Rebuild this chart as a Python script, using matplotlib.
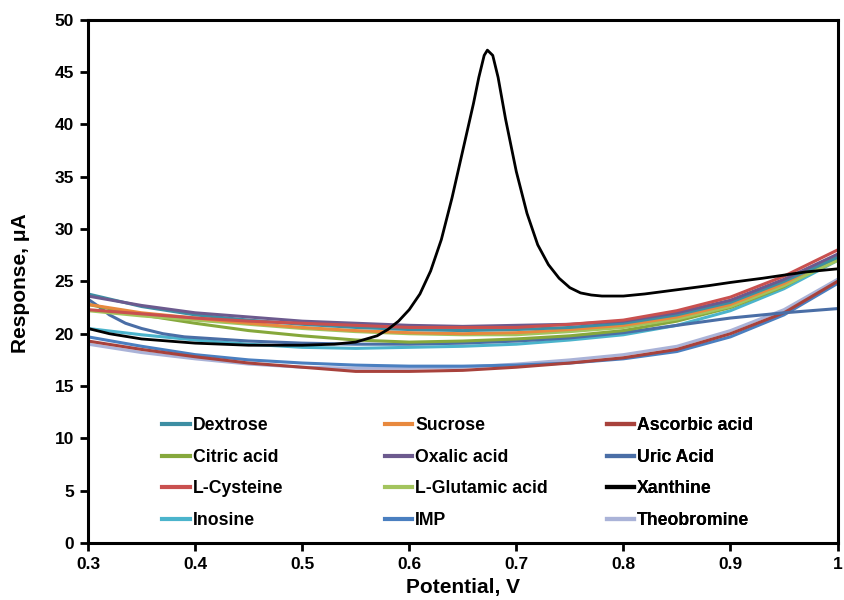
import numpy as np
import matplotlib
matplotlib.use("Agg")
import matplotlib.pyplot as plt
from matplotlib.lines import Line2D

plt.rcParams['font.family'] = ['Liberation Sans', 'DejaVu Sans']
plt.rcParams['font.weight'] = 'bold'

#%% DATA
v_grid = [0.30, 0.35, 0.40, 0.45, 0.50, 0.55, 0.60, 0.65, 0.70, 0.75, 0.80, 0.85, 0.90, 0.95, 1.00]

dextrose    = [23.8, 22.6, 21.8, 21.3, 20.9, 20.6, 20.4, 20.3, 20.4, 20.6, 21.0, 21.8, 23.0, 25.0, 27.3]
sucrose     = [22.8, 22.0, 21.5, 21.0, 20.6, 20.3, 20.1, 20.0, 20.1, 20.4, 20.8, 21.6, 22.8, 24.8, 27.5]
ascorbic    = [19.3, 18.5, 17.8, 17.2, 16.8, 16.4, 16.4, 16.5, 16.8, 17.2, 17.7, 18.5, 20.0, 22.0, 25.0]
citric      = [22.8, 21.8, 21.0, 20.3, 19.8, 19.4, 19.2, 19.3, 19.5, 19.8, 20.3, 21.2, 22.5, 24.5, 27.3]
oxalic      = [23.6, 22.7, 22.0, 21.6, 21.2, 21.0, 20.8, 20.7, 20.8, 20.9, 21.2, 22.0, 23.2, 25.2, 27.6]
cysteine    = [22.3, 21.9, 21.5, 21.2, 21.0, 20.8, 20.6, 20.6, 20.6, 20.9, 21.3, 22.2, 23.5, 25.5, 28.0]
glutamic    = [22.2, 21.7, 21.3, 20.9, 20.5, 20.2, 20.0, 19.9, 19.9, 20.2, 20.6, 21.4, 22.6, 24.6, 27.0]
inosine     = [20.5, 19.9, 19.4, 19.0, 18.7, 18.6, 18.7, 18.8, 19.0, 19.4, 19.9, 20.8, 22.2, 24.3, 27.0]
imp         = [19.7, 18.8, 18.0, 17.5, 17.2, 17.0, 16.9, 16.9, 17.0, 17.2, 17.6, 18.3, 19.7, 21.8, 24.8]
theobromine = [19.0, 18.2, 17.6, 17.1, 16.8, 16.7, 16.7, 16.8, 17.1, 17.5, 18.0, 18.8, 20.3, 22.3, 25.2]

# uric acid falls fast at the start
v_uric = [0.30, 0.31, 0.32, 0.335, 0.35, 0.37, 0.39, 0.42, 0.45, 0.50, 0.55, 0.60, 0.65, 0.70,
          0.75, 0.80, 0.85, 0.90, 0.95, 1.00]
uric = [23.3, 22.6, 21.8, 21.0, 20.5, 20.0, 19.7, 19.5, 19.3, 19.1, 19.0, 19.0, 19.1, 19.3,
        19.6, 20.1, 20.8, 21.5, 22.0, 22.4]

# xanthine has the oxidation peak, so it needs its own finer grid
v_xan = [0.30, 0.32, 0.35, 0.40, 0.45, 0.50, 0.53, 0.55, 0.57, 0.58, 0.59, 0.60, 0.61, 0.62,
         0.63, 0.64, 0.65, 0.66, 0.665, 0.67, 0.673, 0.678, 0.683, 0.69, 0.70, 0.71, 0.72,
         0.73, 0.74, 0.75, 0.76, 0.77, 0.78, 0.80, 0.82, 0.85, 0.88, 0.90, 0.93, 0.95, 0.97, 1.00]
xanthine = [20.5, 20.0, 19.5, 19.1, 18.9, 18.9, 19.0, 19.2, 19.8, 20.4, 21.2, 22.3, 23.8, 26.0,
            29.0, 33.0, 37.5, 42.0, 44.5, 46.6, 47.1, 46.6, 44.5, 40.5, 35.5, 31.5, 28.5,
            26.6, 25.3, 24.4, 23.9, 23.7, 23.6, 23.6, 23.8, 24.2, 24.6, 24.9, 25.3, 25.6, 25.9, 26.2]

names = ['Dextrose', 'Sucrose', 'Ascorbic acid', 'Citric acid', 'Oxalic acid', 'Uric Acid',
         'L-Cysteine', 'L-Glutamic acid', 'Xanthine', 'Inosine', 'IMP', 'Theobromine']
colors = ['#3d8ea3', '#e8893e', '#a8423c', '#86a83c', '#6c5a8e', '#4a6ea6',
          '#c9504f', '#a3c45e', '#000000', '#4bb4cc', '#4a7fc0', '#aab3d8']

#%% PLOT
fig = plt.figure(figsize=(8.44, 6.0), dpi=100)
ax = fig.add_axes([0.1043, 0.095, 0.888, 0.872])

xs = [v_grid, v_grid, v_grid, v_grid, v_grid, v_uric,
      v_grid, v_grid, v_xan, v_grid, v_grid, v_grid]
ys = [dextrose, sucrose, ascorbic, citric, oxalic, uric,
      cysteine, glutamic, xanthine, inosine, imp, theobromine]
draw_order = [11, 10, 2, 9, 5, 3, 7, 1, 0, 4, 6, 8]
for i in draw_order:
    lw = 2.0 if names[i] == 'Xanthine' else 2.2
    ax.plot(xs[i], ys[i], color=colors[i], lw=lw, zorder=5 if names[i] == 'Xanthine' else 2)

ax.set_xlim(0.3, 1.0)
ax.set_ylim(0, 50)
ax.set_xticks(np.arange(0.3, 1.01, 0.1))
ax.set_xticklabels(['0.3', '0.4', '0.5', '0.6', '0.7', '0.8', '0.9', '1'])
ax.set_yticks(range(0, 51, 5))
ax.tick_params(axis='both', direction='out', length=6, width=2, labelsize=12.5, pad=4)
for s in ax.spines.values():
    s.set_linewidth(2.2)

ax.set_xlabel('Potential, V', fontsize=15, fontweight='bold')
ax.set_ylabel('Response, μA', fontsize=15, fontweight='bold')
ax.xaxis.set_label_coords(0.5, -0.066)
ax.yaxis.set_label_coords(-0.077, 0.497)

# legend: 3 columns, row-major order, placed as three single-column legends
col_x = [0.099, 0.396, 0.692]
for c in range(3):
    idx = [c, c + 3, c + 6, c + 9]
    handles = [Line2D([], [], color=colors[i], lw=3) for i in idx]
    leg = ax.legend(handles, [names[i] for i in idx], loc='upper left',
                    bbox_to_anchor=(col_x[c], 0.24), borderaxespad=0, borderpad=0,
                    frameon=False, fontsize=12.7, handlelength=1.55, handletextpad=0.17,
                    labelspacing=0.82)
    ax.add_artist(leg)

fig.savefig('out.png', dpi=100)
